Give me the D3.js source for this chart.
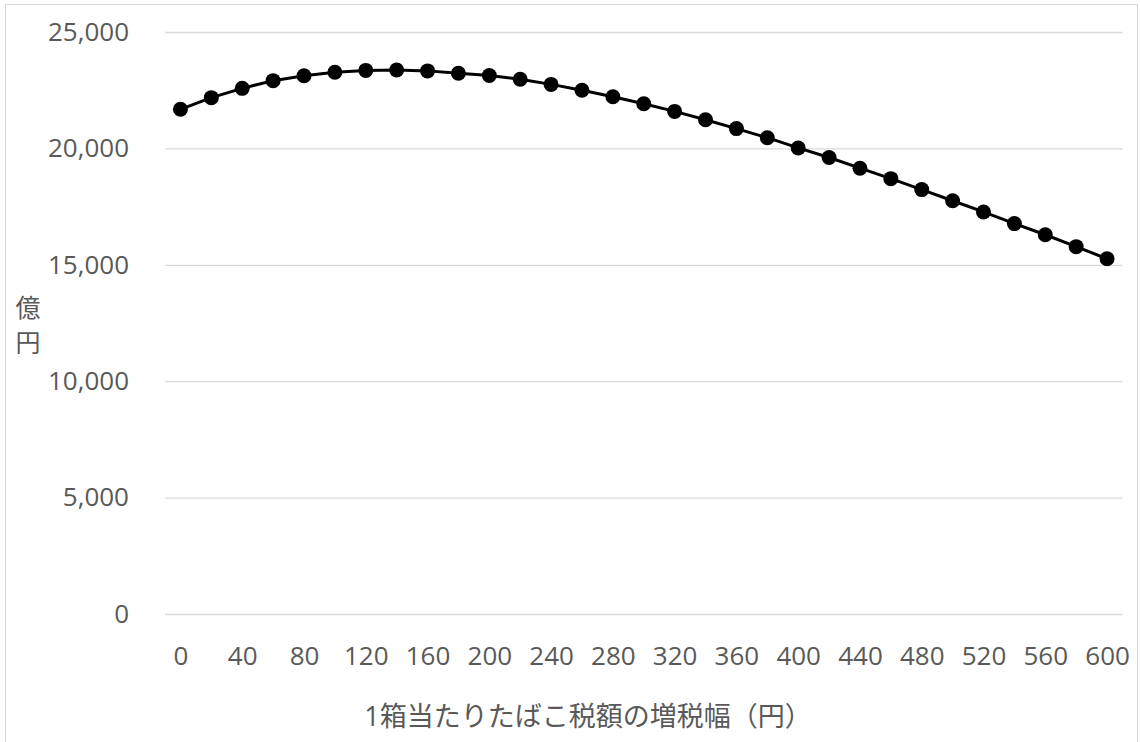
<!DOCTYPE html>
<html>
<head>
<meta charset="utf-8">
<script src="https://cdn.jsdelivr.net/npm/d3@7"></script>
<style>
  body { margin: 0; background: #ffffff; }
  svg { display: block; }
  text { font-family: "Open Sans", "Noto Sans CJK JP", sans-serif; fill: #595959; }
</style>
</head>
<body>
<svg id="chart" width="1140" height="742"></svg>
<script>
// Tax increase per pack (yen) and the resulting tobacco tax revenue (100 million yen)
const increments = [0, 20, 40, 60, 80, 100, 120, 140, 160, 180, 200, 220, 240, 260, 280, 300,
                    320, 340, 360, 380, 400, 420, 440, 460, 480, 500, 520, 540, 560, 580, 600];
const revenue = [21680, 22180, 22580, 22910, 23120, 23270, 23350, 23370, 23330, 23230, 23130,
                 22970, 22750, 22500, 22220, 21920, 21590, 21230, 20850, 20460, 20020, 19610,
                 19150, 18700, 18230, 17750, 17270, 16770, 16290, 15780, 15260];
const xTickLabels = [0, 40, 80, 120, 160, 200, 240, 280, 320, 360, 400, 440, 480, 520, 560, 600];
const yTicks = [0, 5000, 10000, 15000, 20000, 25000];
const xTitle = "1箱当たりたばこ税額の増税幅（円）";
const yTitle = ["億", "円"];

const svg = d3.select("#chart");
const plot = { left: 165, right: 1122.5, top: 32, bottom: 614 };

// chart frame
svg.append("rect")
  .attr("x", 5.5).attr("y", 4.5)
  .attr("width", 1132).attr("height", 780)
  .attr("fill", "#ffffff")
  .attr("stroke", "#d9d9d9").attr("stroke-width", 1);

const x = d3.scalePoint()
  .domain(increments)
  .range([plot.left, plot.right])
  .padding(0.5);

const y = d3.scaleLinear()
  .domain([0, 25000])
  .range([plot.bottom, plot.top]);

// value axis with horizontal gridlines
const yAxis = svg.append("g")
  .attr("transform", `translate(${plot.left},0)`)
  .call(d3.axisLeft(y)
    .tickValues(yTicks)
    .tickSize(-(plot.right - plot.left))
    .tickPadding(36)
    .tickFormat(d3.format(",")));
yAxis.select(".domain").remove();
yAxis.selectAll(".tick line").attr("stroke", "#d9d9d9").attr("stroke-width", 1.3);
yAxis.selectAll(".tick text")
  .attr("font-size", 26)
  .style("font-family", "'Open Sans', sans-serif")
  .attr("fill", "#595959");

// category axis
const xAxis = svg.append("g")
  .attr("transform", `translate(0,${plot.bottom})`)
  .call(d3.axisBottom(x)
    .tickValues(xTickLabels)
    .tickSize(0)
    .tickPadding(33));
xAxis.select(".domain").remove();
xAxis.selectAll(".tick text")
  .attr("font-size", 26)
  .style("font-family", "'Open Sans', sans-serif")
  .attr("fill", "#595959");

// axis titles
svg.append("text")
  .attr("x", 588).attr("y", 715)
  .attr("text-anchor", "middle")
  .attr("dominant-baseline", "central")
  .attr("font-size", 27)
  .text(xTitle);

svg.append("g").selectAll("text")
  .data(yTitle)
  .join("text")
  .attr("x", 28)
  .attr("y", (d, i) => 307 + i * 35)
  .attr("text-anchor", "middle")
  .attr("dominant-baseline", "central")
  .attr("font-size", 25)
  .text(d => d);

// revenue series
const points = increments.map((d, i) => ({ k: d, v: revenue[i] }));

svg.append("path")
  .datum(points)
  .attr("fill", "none")
  .attr("stroke", "#000000")
  .attr("stroke-width", 3)
  .attr("stroke-linejoin", "round")
  .attr("d", d3.line().x(d => x(d.k)).y(d => y(d.v)));

svg.append("g").selectAll("circle")
  .data(points)
  .join("circle")
  .attr("cx", d => x(d.k))
  .attr("cy", d => y(d.v))
  .attr("r", 7.5)
  .attr("fill", "#000000");
</script>
</body>
</html>
